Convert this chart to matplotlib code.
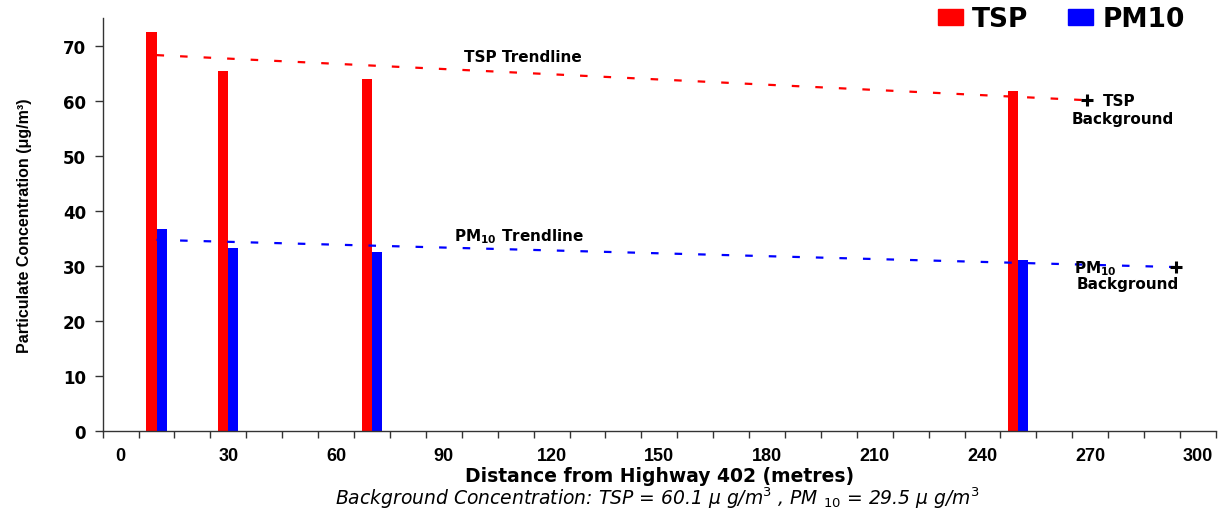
import numpy as np
import matplotlib
matplotlib.use("Agg")
import matplotlib.pyplot as plt
from matplotlib.patches import Patch

plt.rcParams['font.family'] = ['Liberation Sans', 'DejaVu Sans']
plt.rcParams['mathtext.fontset'] = 'dejavusans'

# data
distance = [10, 30, 70, 250]
tsp = [72.5, 65.5, 63.9, 61.8]
pm10 = [36.7, 33.3, 32.5, 31.0]

# trendline end points (distance, value)
tsp_trend_x = [10, 269]
tsp_trend_y = [68.3, 60.1]
pm10_trend_x = [10, 297]
pm10_trend_y = [34.7, 29.7]

# background markers
tsp_bg = (269, 60.1)
pm10_bg = (294, 29.8)

x_labels = [0, 30, 60, 90, 120, 150, 180, 210, 240, 270, 300]
y_ticks = [0, 10, 20, 30, 40, 50, 60, 70]

wide = 'DejaVu Sans'

fig = plt.figure(figsize=(12.28, 5.10), dpi=100)
ax = fig.add_axes([0.0836, 0.1535, 0.9066, 0.8087])

bw = 2.8
x = np.array(distance)
ax.bar(x - bw / 2, tsp, width=bw, color='#ff0000', zorder=2)
ax.bar(x + bw / 2, pm10, width=bw, color='#0000ff', zorder=2)

ln, = ax.plot(tsp_trend_x, tsp_trend_y, color='#ff0000', lw=1.6, zorder=3)
ln.set_dashes([3.4, 7.2])
ln, = ax.plot(pm10_trend_x, pm10_trend_y, color='#0000ff', lw=1.6, zorder=3)
ln.set_dashes([3.4, 7.2])

ax.plot(*tsp_bg, marker='+', color='black', ms=9, mew=2.2, zorder=4)
ax.plot(*pm10_bg, marker='+', color='black', ms=9, mew=2.2, zorder=4)

lab = dict(fontsize=11, fontweight='bold', family=wide)
ax.text(112, 68.0, 'TSP Trendline', ha='center', va='center', **lab)
ax.text(111, 35.5, r'PM$_{\mathbf{10}}$ Trendline', ha='center', va='center', **lab)
ax.text(273.5, 60.0, 'TSP', ha='left', va='center', **lab)
ax.text(279, 56.8, 'Background', ha='center', va='center', **lab)
ax.text(271.5, 29.6, r'PM$_{\mathbf{10}}$', ha='center', va='center', **lab)
ax.text(280.3, 26.7, 'Background', ha='center', va='center', **lab)

ax.set_xlim(-5, 305)
ax.set_ylim(0, 75)
ax.set_xticks(np.arange(-5, 306, 10))
ax.set_xticklabels([])
ax.set_xticks(x_labels, minor=True)
ax.set_xticklabels([str(v) for v in x_labels], minor=True, fontsize=13, fontweight='bold')
ax.tick_params(axis='x', which='minor', length=0, pad=12)
ax.tick_params(axis='x', which='major', length=5, width=1, color='#333333', direction='out')
ax.set_yticks(y_ticks)
ax.set_yticklabels([str(v) for v in y_ticks], fontsize=12, fontweight='bold', family=wide)
ax.tick_params(axis='y', length=6, width=1, color='#333333', pad=6)

for s in ['top', 'right']:
    ax.spines[s].set_visible(False)
for s in ['left', 'bottom']:
    ax.spines[s].set_color('#333333')
    ax.spines[s].set_linewidth(1)

ax.set_xlabel('Distance from Highway 402 (metres)', fontsize=13.5, fontweight='bold', labelpad=1, family=wide)
ax.set_ylabel('Particulate Concentration (μg/m³)', fontsize=11.5, fontweight='bold', labelpad=22)
fig.text(0.535, 0.024, r'Background Concentration: TSP = 60.1 μ g/m$^{3}$ , PM $_{10}$ = 29.5 μ g/m$^{3}$',
         ha='center', va='center', fontsize=13.5, style='italic', family=wide)

handles = [Patch(color='#ff0000'), Patch(color='#0000ff')]
fig.legend(handles, ['TSP', 'PM10'], loc='upper right', bbox_to_anchor=(0.984, 1.032), ncol=2,
           frameon=False, prop={'weight': 'bold', 'size': 19, 'family': wide}, handlelength=0.95,
           handleheight=0.55, handletextpad=0.35, columnspacing=1.5)

fig.savefig('out.png', dpi=100)
